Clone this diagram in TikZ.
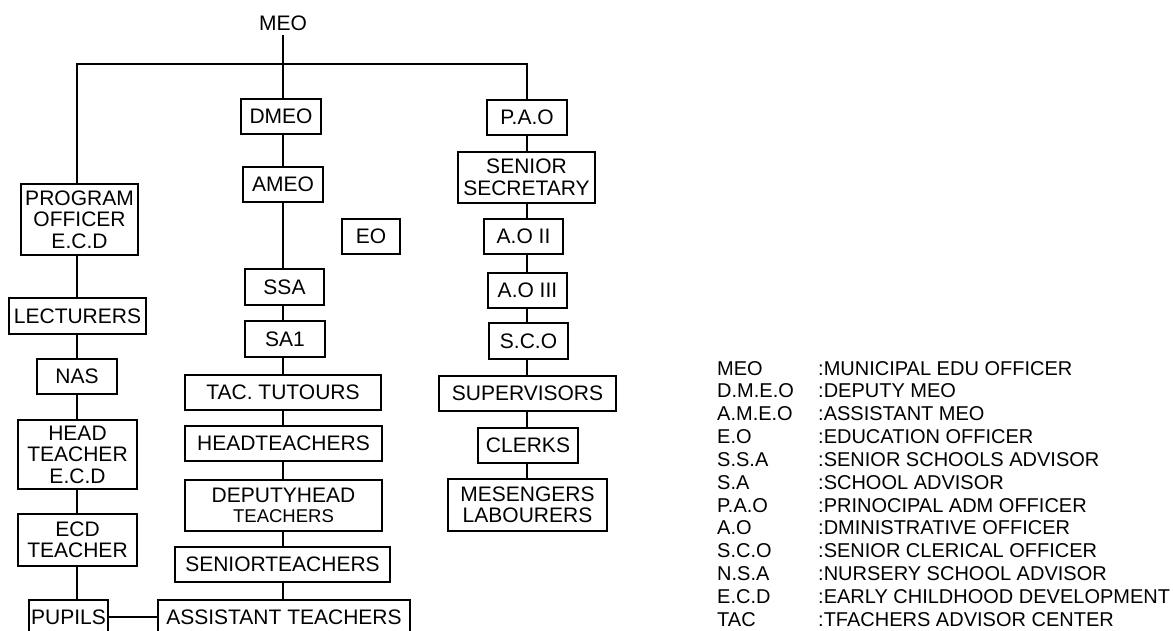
\documentclass[tikz,border=0pt]{standalone}
\usepackage{fontspec}
\setmainfont{Liberation Sans}
\begin{document}
\begin{tikzpicture}[x=1pt,y=-1pt,
  box/.style={draw, line width=1.1pt, inner sep=0pt, align=center,
    font=\fontsize{21}{21.5}\selectfont},
  conn/.style={line width=1.1pt},
  legl/.style={anchor=base west, inner sep=0pt, font=\fontsize{20}{21}\selectfont}]
\useasboundingbox (0,0) rectangle (1173,630);
% column axes
\coordinate (lc) at (77,0);
\coordinate (mc) at (283,0);
\coordinate (rc) at (527,0);
% top
\node[inner sep=0pt, anchor=base, font=\fontsize{21}{21.5}\selectfont] (meo) at (283,30) {MEO};
\coordinate (meob) at (283,35);
\coordinate (j) at (283,64);
% middle column
\node[box, minimum width=80pt, minimum height=35pt] (dmeo) at (281,116.5) {DMEO};
\node[box, minimum width=80pt, minimum height=35pt] (ameo) at (283,184.5) {AMEO};
\node[box, minimum width=58pt, minimum height=35pt] (eo) at (371,236.5) {EO};
\node[box, minimum width=79pt, minimum height=36pt] (ssa) at (284.5,287) {SSA};
\node[box, minimum width=80pt, minimum height=36pt] (sa1) at (285,339) {SA1};
\node[box, minimum width=196pt, minimum height=35pt] (tac) at (283,392.5) {TAC. TUTOURS};
\node[box, minimum width=197pt, minimum height=35pt] (headt) at (283.5,443.5) {HEADTEACHERS};
\node[box, minimum width=197pt, minimum height=51pt] (dep) at (283.5,505.5) {DEPUTYHEAD\\[-2pt]{\fontsize{18.5}{18}\selectfont TEACHERS}};
\node[box, minimum width=215pt, minimum height=35pt] (sen) at (282.5,564.5) {SENIORTEACHERS};
\node[box, minimum width=252pt, minimum height=34pt] (asst) at (284,617) {ASSISTANT TEACHERS};
% left column
\node[box, minimum width=117pt, minimum height=71pt] (prog) at (79.5,219.5) {PROGRAM\\OFFICER\\E.C.D};
\node[box, minimum width=137pt, minimum height=36pt] (lect) at (77.5,316) {LECTURERS};
\node[box, minimum width=80pt, minimum height=35pt] (nas) at (77,376.5) {NAS};
\node[box, minimum width=119pt, minimum height=69pt] (hecd) at (77.5,454.5) {HEAD\\TEACHER\\E.C.D};
\node[box, minimum width=119pt, minimum height=52pt] (ecdt) at (77.5,540) {ECD\\TEACHER};
\node[box, minimum width=79pt, minimum height=34pt] (pup) at (68.5,617) {PUPILS};
% right column
\node[box, minimum width=80pt, minimum height=35pt] (pao) at (527,117.5) {P.A.O};
\node[box, minimum width=137pt, minimum height=51pt] (ssec) at (526.5,177.5) {SENIOR\\SECRETARY};
\node[box, minimum width=79pt, minimum height=35pt] (ao2) at (523.5,236.5) {A.O II};
\node[box, minimum width=79pt, minimum height=35pt] (ao3) at (527.5,290.5) {A.O III};
\node[box, minimum width=79pt, minimum height=36pt] (sco) at (528.5,341) {S.C.O};
\node[box, minimum width=177pt, minimum height=35pt] (sup) at (527.5,393.5) {SUPERVISORS};
\node[box, minimum width=100pt, minimum height=35pt] (clk) at (528,445.5) {CLERKS};
\node[box, minimum width=159pt, minimum height=52pt] (mes) at (527.5,505) {MESENGERS\\LABOURERS};
% connectors
\draw[conn] (meob) -- (j) -- (mc |- dmeo.north);
\draw[conn] (lc |- prog.north) -- (lc |- j) -- (rc |- j) -- (rc |- pao.north);
\draw[conn] (mc |- dmeo.south) -- (mc |- ameo.north);
\draw[conn] (mc |- ameo.south) -- (mc |- ssa.north);
\draw[conn] (mc |- ssa.south) -- (mc |- sa1.north);
\draw[conn] (mc |- sa1.south) -- (mc |- tac.north);
\draw[conn] (mc |- tac.south) -- (mc |- headt.north);
\draw[conn] (mc |- headt.south) -- (mc |- dep.north);
\draw[conn] (mc |- dep.south) -- (mc |- sen.north);
\draw[conn] (mc |- sen.south) -- (mc |- asst.north);
\draw[conn] (lc |- prog.south) -- (lc |- lect.north);
\draw[conn] (lc |- lect.south) -- (lc |- nas.north);
\draw[conn] (lc |- nas.south) -- (lc |- hecd.north);
\draw[conn] (lc |- hecd.south) -- (lc |- ecdt.north);
\draw[conn] (lc |- ecdt.south) -- (lc |- pup.north);
\draw[conn] (pup.east) -- (asst.west);
\draw[conn] (rc |- pao.south) -- (rc |- ssec.north);
\draw[conn] (rc |- ssec.south) -- (rc |- ao2.north);
\draw[conn] (rc |- ao2.south) -- (rc |- ao3.north);
\draw[conn] (rc |- ao3.south) -- (rc |- sco.north);
\draw[conn] (rc |- sco.south) -- (rc |- sup.north);
\draw[conn] (rc |- sup.south) -- (rc |- clk.north);
\draw[conn] (rc |- clk.south) -- (rc |- mes.north);
% legend
\foreach \a/\b [count=\i from 0] in {MEO/:MUNICIPAL EDU OFFICER, D.M.E.O/:DEPUTY MEO, A.M.E.O/:ASSISTANT MEO, E.O/:EDUCATION OFFICER, S.S.A/:SENIOR SCHOOLS ADVISOR, S.A/:SCHOOL ADVISOR, P.A.O/:PRINOCIPAL ADM OFFICER, A.O/:DMINISTRATIVE OFFICER, S.C.O/:SENIOR CLERICAL OFFICER, N.S.A/:NURSERY SCHOOL ADVISOR, E.C.D/:EARLY CHILDHOOD DEVELOPMENT, TAC/:TFACHERS ADVISOR CENTER}{
  \node[legl] (la\i) at (717,375+\i*22.85) {\a};
  \node[legl] (lb\i) at (818,375+\i*22.85) {\b};
}
\end{tikzpicture}
\end{document}
